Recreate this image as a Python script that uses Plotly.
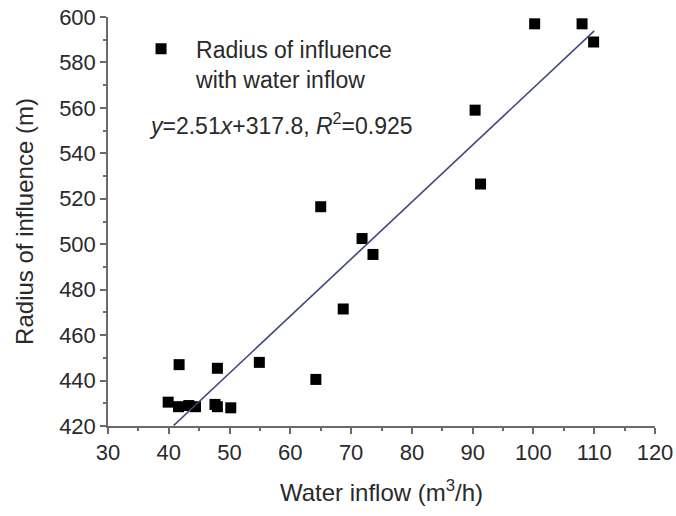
import plotly.graph_objects as go

# Data
water_inflow = [39.9, 41.6, 43.3, 44.4, 41.7, 47.6, 48.0, 50.2, 48.0, 54.9,
                64.2, 65.0, 68.7, 71.8, 73.6, 90.4, 91.3, 100.2, 108.0, 109.9]
radius = [430.5, 428.5, 429.0, 428.5, 447.0, 429.5, 428.5, 428.0, 445.4, 448.0,
          440.5, 516.5, 471.5, 502.5, 495.5, 559.0, 526.5, 597.0, 597.0, 589.0]

slope = 2.51
intercept = 317.8
fit_x = [40.8, 110.0]
fit_y = [slope * v + intercept for v in fit_x]

x_ticks = [30, 40, 50, 60, 70, 80, 90, 100, 110, 120]
y_ticks = [420, 440, 460, 480, 500, 520, 540, 560, 580, 600]

FONT = "Liberation Sans, Arial, sans-serif"
TXT = "#2a2a2a"
AX = "#6a6a6a"

fig = go.Figure()
fig.add_trace(go.Scatter(
    x=water_inflow, y=radius, mode="markers",
    name="Radius of influence<br>with water inflow",
    marker=dict(symbol="square", size=11, color="black"),
))
fig.add_trace(go.Scatter(
    x=fit_x, y=fit_y, mode="lines", showlegend=False,
    line=dict(color="#414877", width=1.6),
))

fig.add_annotation(
    text="<i>y</i>=2.51<i>x</i>+317.8, <i>R</i><sup>2</sup>=0.925",
    xref="paper", yref="paper", x=(147 - 108) / 547, y=(426 - 124) / 409,
    xanchor="left", yanchor="middle", showarrow=False,
    font=dict(family=FONT, size=23, color=TXT),
)

axis_common = dict(
    showgrid=False, zeroline=False, showline=True, linecolor=AX, linewidth=1.5,
    ticks="outside", ticklen=6, tickwidth=1.5, tickcolor=AX,
    tickfont=dict(family=FONT, size=22, color=TXT),
    mirror=False, automargin=False, ticklabeloverflow="allow",
)

fig.update_layout(
    width=676, height=516,
    margin=dict(l=108, r=21, t=17, b=90),
    paper_bgcolor="white", plot_bgcolor="white",
    font=dict(family=FONT, color=TXT),
    xaxis=dict(range=[30, 120], tickvals=x_ticks,
               minor=dict(ticks="outside", ticklen=3, tickcolor=AX, dtick=5, tick0=30),
               title=dict(text="Water inflow (m<sup>3</sup>/h)",
                          font=dict(family=FONT, size=24, color=TXT), standoff=20),
               **axis_common),
    yaxis=dict(range=[420, 600], tickvals=y_ticks,
               minor=dict(ticks="outside", ticklen=3, tickcolor=AX, dtick=10, tick0=420),
               title=dict(text="Radius of influence (m)",
                          font=dict(family=FONT, size=24, color=TXT), standoff=19),
               **axis_common),
    legend=dict(x=0.033, y=0.975, xanchor="left", yanchor="top",
                bgcolor="rgba(0,0,0,0)", itemwidth=60, valign="top",
                font=dict(family=FONT, size=23, color=TXT)),
)

# remove the default page margin so the 676x516 figure fills the window exactly
fig.write_html(
    "out.html",
    config={"displayModeBar": False},
    post_script="document.body.style.margin='0';document.body.style.overflow='hidden';",
)
